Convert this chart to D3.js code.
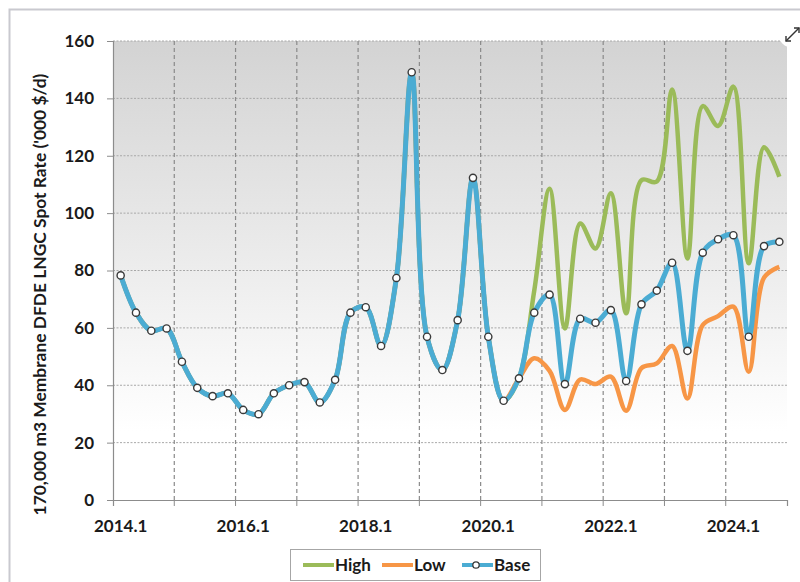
<!DOCTYPE html>
<html>
<head>
<meta charset="utf-8">
<script src="https://cdn.jsdelivr.net/npm/d3@7/dist/d3.min.js"></script>
<style>
  body { margin: 0; background: #fff; }
  svg text { font-family: Lato, "Open Sans", sans-serif; font-weight: 700; fill: #1a1a1a; }
</style>
</head>
<body>
<div id="chart"></div>
<script>
// chart data (quarterly, 2014.1 - 2024.4)
const years = [2014, 2015, 2016, 2017, 2018, 2019, 2020, 2021, 2022, 2023, 2024];
const quarters = [1, 2, 3, 4];
const yTicks = [0, 20, 40, 60, 80, 100, 120, 140, 160];
const seriesNames = ["High", "Low", "Base"];

const baseValues = [78.3, 65.3, 59.0, 59.8, 48.2, 39.1, 36.2, 37.2, 31.4, 29.9, 37.2, 40.0,
  41.1, 34.0, 41.9, 65.3, 67.2, 53.7, 77.4, 149.1, 56.9, 45.3, 62.7, 112.3,
  56.9, 34.6, 42.4, 65.3, 71.6, 40.4, 63.2, 61.8, 66.2, 41.5, 68.2, 73.0,
  82.7, 52.0, 86.2, 90.9, 92.3, 56.9, 88.5, 90.0];
const highValues = [78.3, 65.3, 59.0, 59.8, 48.2, 39.1, 36.2, 37.2, 31.4, 29.9, 37.2, 40.0,
  41.1, 34.0, 41.9, 65.3, 67.2, 53.7, 77.4, 149.1, 56.9, 45.3, 62.7, 112.3,
  56.9, 34.6, 42.4, 73.0, 108.5, 59.8, 96.4, 87.7, 106.9, 65.1, 111.5, 111.0,
  143.1, 84.2, 137.3, 130.4, 144.1, 82.5, 123.0, 112.7];
const lowValues = [78.3, 65.3, 59.0, 59.8, 48.2, 39.1, 36.2, 37.2, 31.4, 29.9, 37.2, 40.0,
  41.1, 34.0, 41.9, 65.3, 67.2, 53.7, 77.4, 149.1, 56.9, 45.3, 62.7, 112.3,
  56.9, 34.6, 42.4, 49.4, 45.0, 31.4, 42.0, 40.4, 43.0, 31.1, 46.0, 47.6,
  53.7, 35.4, 61.0, 64.1, 67.4, 44.7, 77.5, 81.3];

let categories = [];
years.forEach((yr) => {
  quarters.forEach((q) => categories.push(yr + "." + q));
});

const W = 800, H = 582;
const margin = {top: 41, right: 13, bottom: 82, left: 113};
const colors = {High: "#9bbb59", Low: "#f79646", Base: "#4bacd3"};

const svg = d3.select("#chart").append("svg")
  .attr("width", W)
  .attr("height", H);

// outer frame
svg.append("path")
  .attr("d", "M9.5," + H + "V9.5H" + W)
  .attr("fill", "none")
  .attr("stroke", "#c9c9cf")
  .attr("stroke-width", 2);

const x = d3.scaleBand().domain(categories).range([margin.left, W - margin.right]);
const y = d3.scaleLinear().domain([0, 160]).range([H - margin.bottom, margin.top]);
const cx = (c) => x(c) + x.bandwidth() / 2;

// plot area gradient
const grad = svg.append("defs").append("linearGradient")
  .attr("id", "bg").attr("x1", 0).attr("y1", 0).attr("x2", 0).attr("y2", 1);
grad.append("stop").attr("offset", "0%").attr("stop-color", "#d3d3d3");
grad.append("stop").attr("offset", "85%").attr("stop-color", "#ffffff");

svg.append("rect")
  .attr("x", margin.left).attr("y", margin.top)
  .attr("width", W - margin.right - margin.left)
  .attr("height", y(0) - y(160))
  .attr("fill", "url(#bg)");

// horizontal grid
svg.append("g").selectAll("line")
  .data(yTicks.slice(1))
  .enter().append("line")
  .attr("x1", margin.left).attr("x2", W - margin.right)
  .attr("y1", (d) => y(d)).attr("y2", (d) => y(d))
  .attr("stroke", "#a8a8a8")
  .attr("stroke-width", 1)
  .attr("stroke-dasharray", "2,1.5");

// vertical grid every year + tick marks
const yearStarts = categories.filter((c, i) => i % 4 === 0 && i > 0);
svg.append("g").selectAll("line")
  .data(yearStarts)
  .enter().append("line")
  .attr("x1", (d) => x(d)).attr("x2", (d) => x(d))
  .attr("y1", y(160)).attr("y2", y(0))
  .attr("stroke", "#8a8a8a")
  .attr("stroke-width", 1.2)
  .attr("stroke-dasharray", "4,3");
svg.append("g").selectAll("line")
  .data(yearStarts)
  .enter().append("line")
  .attr("x1", (d) => x(d)).attr("x2", (d) => x(d))
  .attr("y1", y(0)).attr("y2", y(0) + 6)
  .attr("stroke", "#8c8c8c");

// axes
const yAxis = svg.append("g")
  .attr("transform", "translate(" + margin.left + ",0)")
  .call(d3.axisLeft(y).tickValues(yTicks).tickSize(6).tickPadding(13));
const xAxis = svg.append("g")
  .attr("transform", "translate(0," + y(0) + ")")
  .call(d3.axisBottom(x)
    .tickValues(categories.filter((c, i) => i % 8 === 0))
    .tickSize(0).tickSizeOuter(6).tickPadding(20));
[yAxis, xAxis].forEach((ax) => {
  ax.select(".domain").attr("stroke", "#8c8c8c").attr("stroke-width", 1.2);
  ax.selectAll(".tick line").attr("stroke", "#8c8c8c");
  ax.selectAll("text").style("font-size", "17px").attr("fill", "#1a1a1a");
});

// y axis title
svg.append("text")
  .attr("transform", "translate(45.5,294.5) rotate(-90)")
  .attr("text-anchor", "middle")
  .style("font-size", "17.4px")
  .text("170,000 m3 Membrane DFDE LNGC Spot Rate ('000 $/d)");

// lines
const line = d3.line()
  .x((d) => cx(d.cat))
  .y((d) => y(d.v))
  .curve(d3.curveCatmullRom.alpha(0.5));

function toPoints(vals) {
  return vals.map((v, i) => ({cat: categories[i], v: v}));
}

const series = [
  {name: "High", values: highValues},
  {name: "Low", values: lowValues},
  {name: "Base", values: baseValues}
];

series.forEach((s) => {
  svg.append("path")
    .datum(toPoints(s.values))
    .attr("d", line)
    .attr("fill", "none")
    .attr("stroke", colors[s.name])
    .attr("stroke-width", s.name === "Base" ? 5 : 4.5)
    .attr("stroke-linejoin", "round");
});

svg.append("g").selectAll("circle")
  .data(toPoints(baseValues))
  .enter().append("circle")
  .attr("cx", (d) => cx(d.cat))
  .attr("cy", (d) => y(d.v))
  .attr("r", 3.6)
  .attr("fill", "#fff")
  .attr("stroke", "#3a3a3a")
  .attr("stroke-width", 1.4);

// expand icon in the corner
svg.append("circle").attr("cx", 793).attr("cy", 33).attr("r", 15).attr("fill", "#fff");
const icon = svg.append("g").attr("stroke", "#333").attr("stroke-width", 1.4).attr("fill", "none");
icon.append("path").attr("d", "M786,41L799,28");
icon.append("path").attr("d", "M786,36V41H791");
icon.append("path").attr("d", "M794,28H799V33");

// legend
const lg = svg.append("g");
lg.append("rect")
  .attr("x", 290.5).attr("y", 549.5)
  .attr("width", 250).attr("height", 31)
  .attr("fill", "#fff")
  .attr("stroke", "#a6a6a6");

const legendX = {High: 303, Low: 382, Base: 462};
seriesNames.forEach((name) => {
  let lx = legendX[name];
  lg.append("line")
    .attr("x1", lx).attr("x2", lx + 31)
    .attr("y1", 565).attr("y2", 565)
    .attr("stroke", colors[name])
    .attr("stroke-width", 4);
  if (name === "Base") {
    lg.append("circle")
      .attr("cx", lx + 14).attr("cy", 565).attr("r", 3.2)
      .attr("fill", "#fff").attr("stroke", "#3a3a3a").attr("stroke-width", 1.3);
  }
  lg.append("text")
    .attr("x", lx + 32).attr("y", 571)
    .style("font-size", "17px")
    .text(name);
});
</script>
</body>
</html>
